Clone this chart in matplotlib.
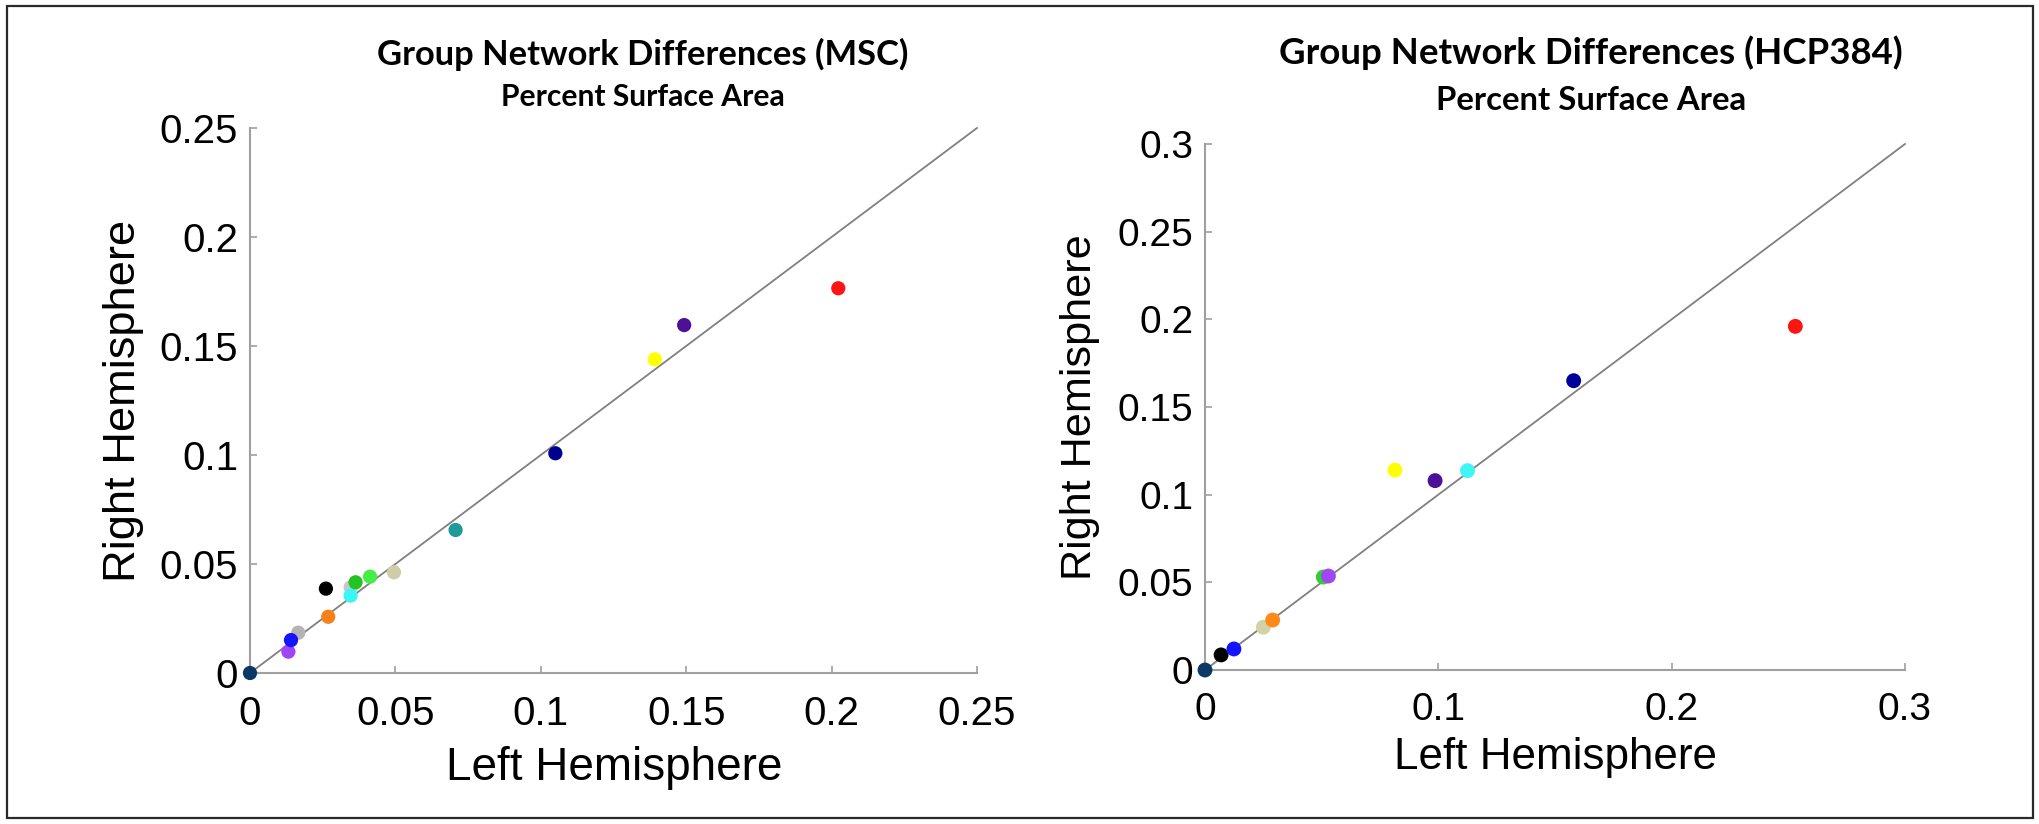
import matplotlib
matplotlib.use("Agg")
import matplotlib.pyplot as plt
from matplotlib.patches import Rectangle

# ---------------- data ----------------
msc_left = [0.0166, 0.0132, 0.0141, 0.0346, 0.0346, 0.0363, 0.0413, 0.0495,
            0.0269, 0.0261, 0.0707, 0.105, 0.1392, 0.1493, 0.2023, 0.0]
msc_right = [0.0185, 0.0098, 0.0151, 0.0393, 0.0355, 0.0416, 0.0442, 0.0462,
             0.0258, 0.0387, 0.0656, 0.1008, 0.1439, 0.1596, 0.1765, 0.0]
msc_colors = ["#b4b4b4", "#a046f5", "#1414ff", "#c8c8c8", "#3cf5f5", "#22c322",
              "#44ee44", "#cfcca8", "#f7801a", "#000000", "#1e9a9a", "#00008f",
              "#ffff00", "#4c1196", "#ff1414", "#0c3865"]

hcp_left = [0.0069, 0.0124, 0.025, 0.029, 0.0507, 0.0529, 0.0814, 0.0986,
            0.1125, 0.158, 0.253, 0.0]
hcp_right = [0.0086, 0.012, 0.0244, 0.0285, 0.053, 0.0536, 0.114, 0.108,
             0.1137, 0.165, 0.196, 0.0]
hcp_colors = ["#000000", "#1414ff", "#d2d2a8", "#ff8a1a", "#33cc33", "#a046f5",
              "#ffff00", "#4c1196", "#40f5f5", "#00009a", "#ff1414", "#0c3865"]

msc_ticks = [0, 0.05, 0.1, 0.15, 0.2, 0.25]
msc_ticklabels = ["0", "0.05", "0.1", "0.15", "0.2", "0.25"]
hcp_xticks = [0, 0.1, 0.2, 0.3]
hcp_xticklabels = ["0", "0.1", "0.2", "0.3"]
hcp_yticks = [0, 0.05, 0.1, 0.15, 0.2, 0.25, 0.3]
hcp_yticklabels = ["0", "0.05", "0.1", "0.15", "0.2", "0.25", "0.3"]

titles = ["Group Network Differences (MSC)", "Group Network Differences (HCP384)"]
subtitle = "Percent Surface Area"
xlabel = "Left Hemisphere"
ylabel = "Right Hemisphere"

# ---------------- figure ----------------
W, H = 2040, 824
fig = plt.figure(figsize=(W / 100, H / 100), dpi=100)
fig.patch.set_facecolor("white")

def px_axes(x0, x1, ytop, ybot):
    return fig.add_axes([x0 / W, 1 - ybot / H, (x1 - x0) / W, (ybot - ytop) / H])

ax1 = px_axes(250, 977, 128, 673)
ax2 = px_axes(1205, 1905, 144, 670)

spine_col = "#a0a0a0"
tick_font = "Liberation Sans"

def style(ax, lim_x, lim_y, xt, xtl, yt, ytl, fs):
    ax.set_xlim(*lim_x)
    ax.set_ylim(*lim_y)
    for s in ["top", "right"]:
        ax.spines[s].set_visible(False)
    for s in ["left", "bottom"]:
        ax.spines[s].set_color(spine_col)
        ax.spines[s].set_linewidth(1.5)
    ax.set_xticks(xt)
    ax.set_xticklabels(xtl)
    ax.set_yticks(yt)
    ax.set_yticklabels(ytl)
    ax.tick_params(axis="both", direction="in", length=5, width=1.2,
                   color=spine_col, labelsize=fs, labelcolor="black")
    ax.tick_params(axis="x", pad=16)
    ax.tick_params(axis="y", pad=8.5)
    for lab in ax.get_xticklabels() + ax.get_yticklabels():
        lab.set_fontfamily(tick_font)

style(ax1, (0, 0.25), (0, 0.25), msc_ticks, msc_ticklabels, msc_ticks, msc_ticklabels, 29)
style(ax2, (0, 0.3), (0, 0.3), hcp_xticks, hcp_xticklabels, hcp_yticks, hcp_yticklabels, 28)

ax1.plot([0, 0.25], [0, 0.25], color="#808080", lw=1.3, zorder=2, clip_on=False)
ax2.plot([0, 0.3], [0, 0.3], color="#808080", lw=1.3, zorder=2, clip_on=False)

ax1.scatter(msc_left, msc_right, c=msc_colors, s=105, linewidths=0, zorder=3, clip_on=False)
ax2.scatter(hcp_left, hcp_right, c=hcp_colors, s=115, linewidths=0, zorder=3, clip_on=False)

# ---------------- texts, fitted to measured widths ----------------
renderer = fig.canvas.get_renderer()

def fit_text(xc, yc, s, target, rotation=0, **kw):
    t = fig.text(xc / W, 1 - yc / H, s, ha="center", va="center",
                 rotation=rotation, fontsize=20, **kw)
    bb = t.get_window_extent(renderer)
    size = bb.width if rotation == 0 else bb.height
    t.set_fontsize(20 * target / size)
    return t

title_font = ["Lato", "DejaVu Sans"]
fit_text(643, 54, titles[0], 531, fontfamily=title_font, fontweight="bold")
fit_text(643, 97, subtitle, 283, fontfamily=title_font, fontweight="bold")
fit_text(1591, 53, titles[1], 623, fontfamily=title_font, fontweight="bold")
fit_text(1591, 100, subtitle, 310, fontfamily=title_font, fontweight="bold")

lab_font = "Liberation Sans"
fit_text(614, 768, xlabel, 336, fontfamily=lab_font)
fit_text(124, 401, ylabel, 361, rotation=90, fontfamily=lab_font)
fit_text(1556, 757, xlabel, 322, fontfamily=lab_font)
fit_text(1080, 407, ylabel, 345, rotation=90, fontfamily=lab_font)

# outer frame
fig.patches.append(Rectangle((7 / W, 6 / H), (2033 - 7) / W, (818 - 6) / H,
                             transform=fig.transFigure, fill=False,
                             edgecolor="#2a2a2a", linewidth=1.6))

fig.savefig("out.png", dpi=100)
